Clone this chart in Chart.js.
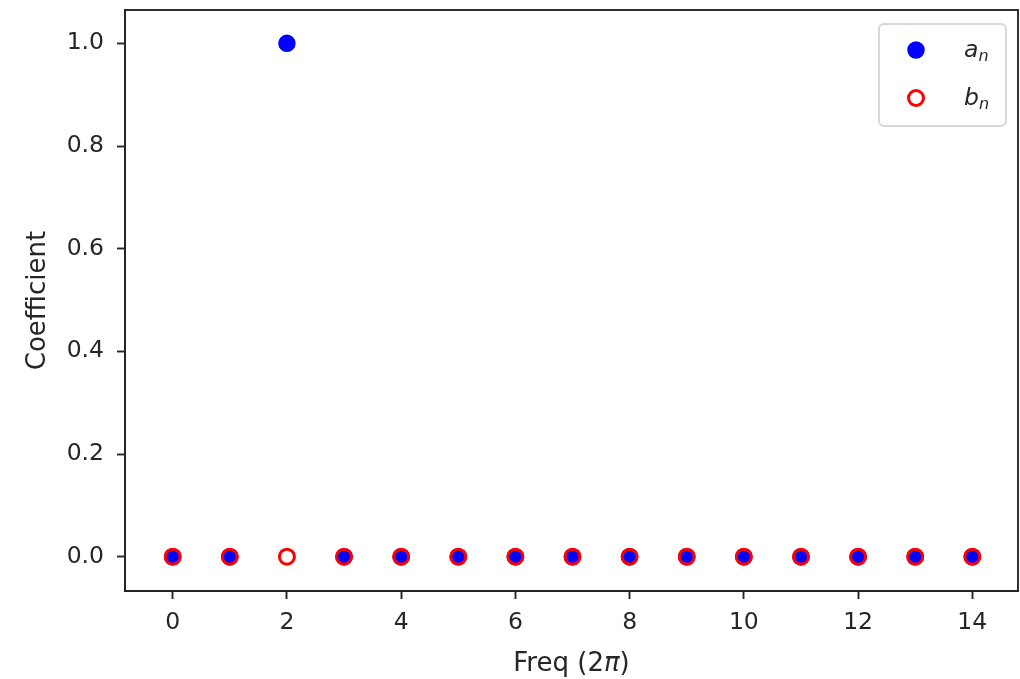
<!DOCTYPE html>
<html>
<head>
<meta charset="utf-8">
<script src="https://cdn.jsdelivr.net/npm/chart.js@4"></script>
<style>
  html, body { margin: 0; padding: 0; background: #fff; }
  #wrap { width: 1020px; height: 679px; }
</style>
</head>
<body>
<div id="wrap"><canvas id="coefChart" width="1020" height="679"></canvas></div>
<script>
// frequencies 0..14 and the Fourier coefficients at each one
const freqs = [0, 1, 2, 3, 4, 5, 6, 7, 8, 9, 10, 11, 12, 13, 14];
const aValues = [0, 0, 1, 0, 0, 0, 0, 0, 0, 0, 0, 0, 0, 0, 0];
const bValues = [0, 0, 0, 0, 0, 0, 0, 0, 0, 0, 0, 0, 0, 0, 0];
const xTicks = [0, 2, 4, 6, 8, 10, 12, 14];
const yTicks = [0, 0.2, 0.4, 0.6, 0.8, 1.0];

const FONT = "'DejaVu Sans', sans-serif";
const INK = "#262626";
const TICK_SIZE = 23.5;
const LABEL_SIZE = 26;

function toPoints(xs, ys) {
  return xs.map((x, i) => ({ x: x, y: ys[i] }));
}

// frame around the plot, axis titles and the legend box
const decorations = {
  id: "decorations",
  afterDraw(chart) {
    const { ctx, chartArea: a } = chart;
    ctx.save();
    ctx.strokeStyle = INK;
    ctx.lineWidth = 1.9;
    ctx.strokeRect(a.left, a.top, a.right - a.left, a.bottom - a.top);

    ctx.fillStyle = INK;
    ctx.textBaseline = "alphabetic";
    // x title: Freq (2π), with an italic pi
    const up = LABEL_SIZE + "px " + FONT;
    const it = "italic " + LABEL_SIZE + "px " + FONT;
    const p1 = "Freq (2", p3 = ")";
    ctx.font = up;
    const w1 = ctx.measureText(p1).width;
    const w3 = ctx.measureText(p3).width;
    ctx.font = it;
    const w2 = ctx.measureText("\u03c0").width;
    const x = (a.left + a.right) / 2 - (w1 + w2 + w3) / 2;
    const yb = 671;
    ctx.textAlign = "left";
    ctx.font = up;
    ctx.fillText(p1, x, yb);
    ctx.font = it;
    ctx.fillText("\u03c0", x + w1, yb);
    ctx.font = up;
    ctx.fillText(p3, x + w1 + w2, yb);

    // y title
    ctx.save();
    ctx.translate(45, (a.top + a.bottom) / 2);
    ctx.rotate(-Math.PI / 2);
    ctx.textAlign = "center";
    ctx.fillText("Coefficient", 0, 0);
    ctx.restore();

    // legend
    const lx = 879, ly = 24, lw = 127, lh = 102;
    ctx.beginPath();
    ctx.roundRect(lx, ly, lw, lh, 5);
    ctx.fillStyle = "rgba(255,255,255,0.8)";
    ctx.fill();
    ctx.strokeStyle = "#d6d6d6";
    ctx.lineWidth = 1.9;
    ctx.stroke();

    const sets = chart.data.datasets;
    const rows = [50, 98];
    const names = [["a", "n"], ["b", "n"]];
    sets.forEach((ds, i) => {
      ctx.beginPath();
      ctx.arc(916, rows[i], ds.pointRadius, 0, Math.PI * 2);
      ctx.fillStyle = ds.backgroundColor;
      ctx.fill();
      ctx.lineWidth = ds.borderWidth;
      ctx.strokeStyle = ds.borderColor;
      ctx.stroke();

      ctx.fillStyle = INK;
      ctx.textAlign = "left";
      ctx.font = "italic " + TICK_SIZE + "px " + FONT;
      ctx.fillText(names[i][0], 964, rows[i] + 7);
      const wa = ctx.measureText(names[i][0]).width;
      ctx.font = "italic 16px " + FONT;
      ctx.fillText(names[i][1], 964 + wa, rows[i] + 11);
    });
    ctx.restore();
  }
};

const ctx = document.getElementById("coefChart").getContext("2d");
const coefChart = new Chart(ctx, {
  type: "scatter",
  data: {
    datasets: [
      {
        label: "a_n",
        data: toPoints(freqs, aValues),
        backgroundColor: "#0000ff",
        borderColor: "#0000ff",
        borderWidth: 1.5,
        pointRadius: 8,
        pointHoverRadius: 8,
        order: 2,
      },
      {
        label: "b_n",
        data: toPoints(freqs, bValues),
        backgroundColor: "rgba(255,255,255,0)",
        borderColor: "#ff0000",
        borderWidth: 3,
        pointRadius: 7.5,
        pointHoverRadius: 7.5,
        order: 1,
      },
    ],
  },
  options: {
    responsive: false,
    animation: false,
    layout: { autoPadding: false, padding: { top: 10, right: 2, left: 0, bottom: 0 } },
    plugins: {
      legend: { display: false },
      tooltip: { enabled: false },
    },
    scales: {
      x: {
        type: "linear",
        min: -0.835,
        max: 14.8,
        afterBuildTicks(scale) {
          scale.ticks = xTicks.map((v) => ({ value: v }));
        },
        afterFit(scale) {
          scale.height = 88;
          scale.paddingLeft = 0;
          scale.paddingRight = 0;
        },
        grid: {
          drawOnChartArea: false,
          drawTicks: true,
          tickLength: 8,
          tickWidth: 1.9,
          tickColor: INK,
        },
        border: { display: true, color: INK, width: 1.9 },
        ticks: {
          padding: 10,
          color: INK,
          font: { family: FONT, size: TICK_SIZE },
          maxRotation: 0,
          callback: (v) => String(v),
        },
      },
      y: {
        type: "linear",
        min: -0.0668,
        max: 1.065,
        afterBuildTicks(scale) {
          scale.ticks = yTicks.map((v) => ({ value: v }));
        },
        afterFit(scale) {
          scale.width = 125;
          scale.paddingTop = 0;
          scale.paddingBottom = 0;
        },
        grid: {
          drawOnChartArea: false,
          drawTicks: true,
          tickLength: 8,
          tickWidth: 1.9,
          tickColor: INK,
        },
        border: { display: true, color: INK, width: 1.9 },
        ticks: {
          padding: 13,
          color: INK,
          font: { family: FONT, size: TICK_SIZE },
          callback: (v) => Number(v).toFixed(1),
        },
      },
    },
  },
  plugins: [decorations],
});
</script>
</body>
</html>
